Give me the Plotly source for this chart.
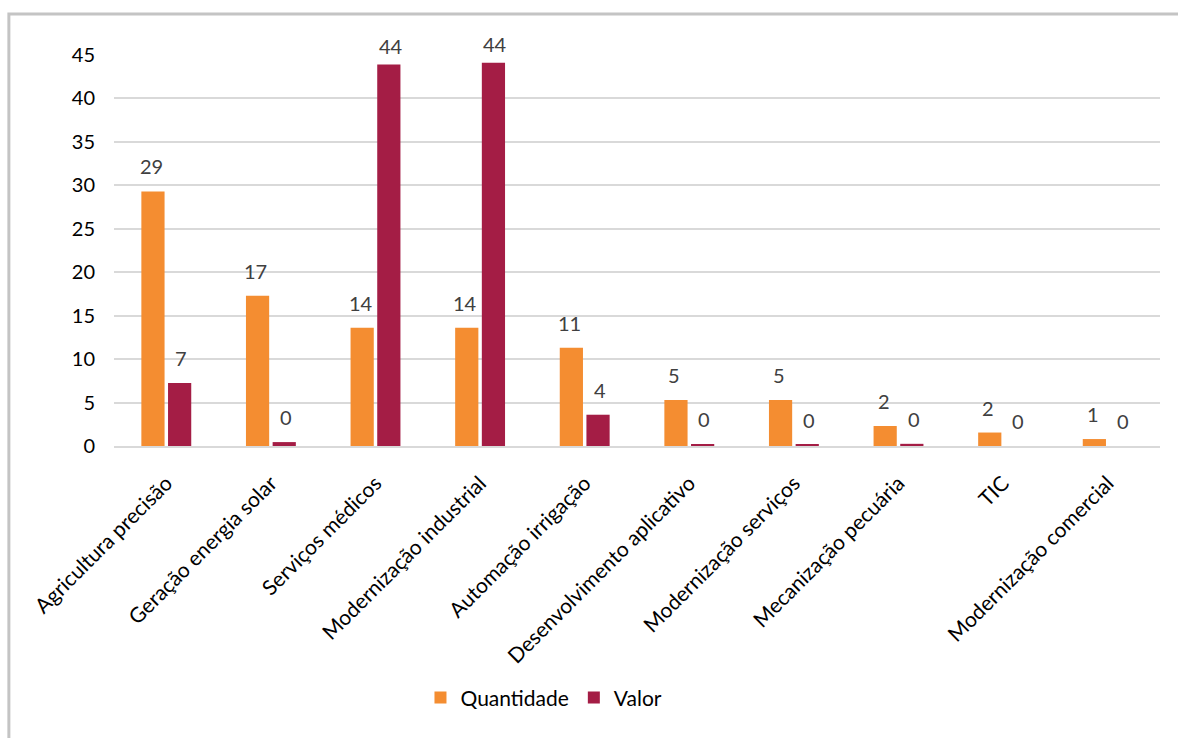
import plotly.graph_objects as go

categories = ["Agricultura precisão", "Geração energia solar", "Serviços médicos",
              "Modernização industrial", "Automação irrigação", "Desenvolvimento aplicativo",
              "Modernização serviços", "Mecanização pecuária", "TIC", "Modernização comercial"]
quantidade = [29.3, 17.3, 13.6, 13.6, 11.3, 5.3, 5.3, 2.3, 1.55, 0.8]
valor = [7.25, 0.45, 43.9, 44.1, 3.6, 0.2, 0.15, 0.25, 0.0, 0.0]
series_names = ["Quantidade", "Valor"]
colors = ["#F48D31", "#A41D45"]
FONT = "Lato"

fig = go.Figure()
for name, vals, col in zip(series_names, [quantidade, valor], colors):
    fig.add_trace(go.Bar(x=categories, y=vals, name=name, marker=dict(color=col, line=dict(width=0))))

annotations = []
for vals, xs in [(quantidade, -15), (valor, 15)]:
    for c, v in zip(categories, vals):
        annotations.append(dict(x=c, y=v, xref="x", yref="y", text=f"{int(v + 0.5)}",
                                showarrow=False, xshift=xs, yshift=19 if v > 40 else 25, yanchor="middle",
                                font=dict(family=FONT, size=20, color="#404040")))

fig.update_layout(
    width=1178, height=738,
    margin=dict(l=114, r=18, t=55, b=292, autoexpand=False),
    paper_bgcolor="white", plot_bgcolor="white",
    barmode="group", bargap=0.49, bargroupgap=0.13,
    font=dict(family=FONT, size=20, color="black"),
    legend=dict(orientation="h", x=0.293, y=-0.644, xanchor="left", yanchor="middle",
                font=dict(family=FONT, size=21, color="black"), traceorder="normal"),
    annotations=annotations,
    shapes=[dict(type="rect", xref="paper", yref="paper", x0=-0.1005, x1=1.2, y0=-1.0, y1=1.105,
                 line=dict(color="#C4C4C4", width=3), fillcolor="rgba(0,0,0,0)", layer="below")],
    showlegend=True,
)
fig.update_yaxes(range=[0, 45], dtick=5, tick0=0, showgrid=True, gridcolor="#D9D9D9", gridwidth=1.5,
                 zeroline=False, showline=False, ticks="", ticklabelstandoff=18,
                 tickfont=dict(family=FONT, size=20, color="black"))
fig.update_xaxes(tickangle=-45, showline=True, linecolor="#D9D9D9", linewidth=1.5, ticks="",
                 automargin=False, ticklabelstandoff=15, tickfont=dict(family=FONT, size=21, color="black"))

fig.write_html("out.html")
